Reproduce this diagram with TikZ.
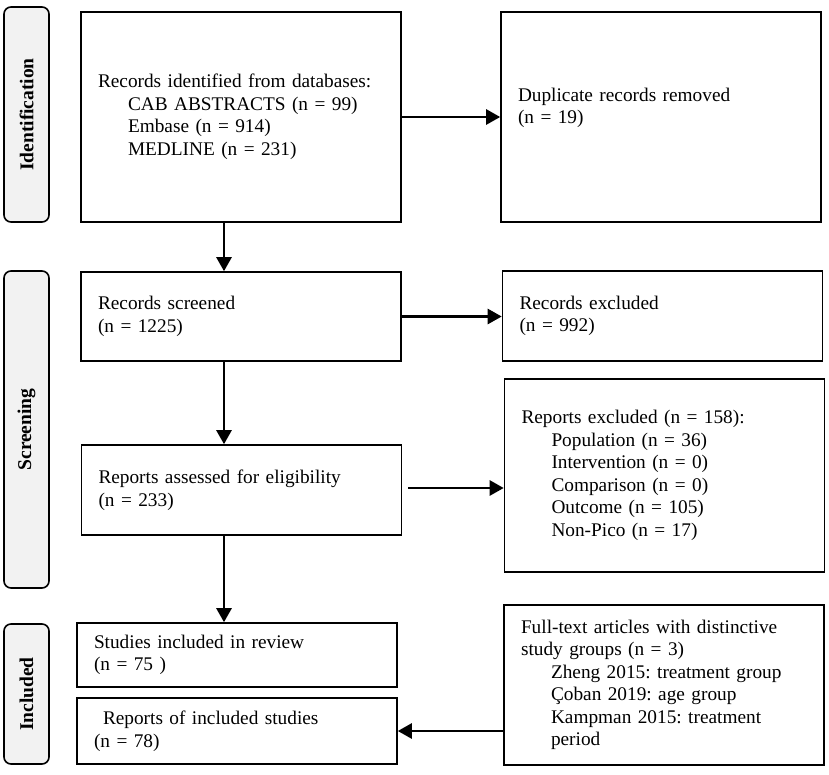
\documentclass[tikz,border=0pt]{standalone}
\usepackage{fontspec}
\setmainfont{Liberation Serif}
\usepackage{xcolor}
\usetikzlibrary{arrows.meta}

\definecolor{sidegray}{HTML}{F2F2F2}

\tikzset{
    box/.style={draw, line width=1.6pt, inner xsep=17pt, inner ysep=0pt,
        minimum width=320pt, text width=286pt, align=left,
        font=\fontsize{19.3}{22.5}\selectfont},
    sidebox/.style={draw, line width=1.6pt, fill=sidegray, rounded corners=7pt,
        rotate=90, minimum height=45pt, inner sep=0pt,
        font=\bfseries\fontsize{19.5}{21}\selectfont},
    arr/.style={line width=2.6pt, -{Triangle[length=14pt,width=15pt]}}
}

\newcommand{\ind}{\hspace*{30pt}}
\frenchspacing

\begin{document}
\begin{tikzpicture}[x=1pt, y=-1pt]
            \fill[white] (0,0) rectangle (829,774);
            \useasboundingbox (0,0) rectangle (829,774);

            % phase labels
            \node[sidebox, minimum width=215pt] (ident) at (26.5,114.5) {Identification};
            \node[sidebox, minimum width=317pt] (scrn) at (26.5,429.5) {Screening};
            \node[sidebox, minimum width=140pt] (incd) at (26.5,694) {Included};

            % Identification
            \node[box, minimum height=210pt] (rid) at (241,117) {Records identified from databases:\\
                \ind CAB ABSTRACTS (n = 99)\\ \ind Embase (n = 914)\\ \ind MEDLINE (n = 231)};
            \node[box, minimum height=210pt] (dup) at (661,117) {Duplicate records removed\\ (n = 19)\\ \mbox{}};

            % Screening
            \node[box, minimum height=89pt] (scr) at (241,316.5) {Records screened\\ (n = 1225)};
            \node[box, minimum height=90pt] (excl) at (662.5,316) {Records excluded\\ (n = 992)};
            \node[box, minimum height=90pt] (rep) at (241.5,490) {Reports assessed for eligibility\\ (n = 233)};
            \node[box, minimum height=193pt] (rexc) at (664.5,475.5) {Reports excluded (n = 158):\\
                \ind Population (n = 36)\\ \ind Intervention (n = 0)\\ \ind Comparison (n = 0)\\
                \ind Outcome (n = 105)\\ \ind Non-Pico (n = 17)};

            % Included
            \node[box, minimum height=64pt] (stud) at (237,655) {Studies included in review\\ (n = 75 )};
            \node[box, minimum height=66pt] (incl) at (237,731) {\hspace*{9pt}Reports of included studies\\ (n = 78)};
            \node[box, minimum height=160pt] (full) at (664,685) {Full-text articles with distinctive\\
                study groups (n = 3)\\ \ind Zheng 2015: treatment group\\ \ind Çoban 2019: age group\\
                \ind Kampman 2015: treatment\\ \ind period};

            % arrows
            \coordinate (spine) at (224,0);
            \draw[arr] (rid.east) -- (dup.west);
            \draw[arr] (rid.south -| spine) -- (scr.north -| spine);
            \draw[arr] (scr.east) -- (scr.east -| excl.west);
            \draw[arr] (scr.south -| spine) -- (rep.north -| spine);
            \draw[arr, shorten <=6pt] ([yshift=2pt]rep.east) -- ([yshift=2pt]rep.east -| rexc.west);
            \draw[arr] (rep.south -| spine) -- (stud.north -| spine);
            \draw[arr] (incl.east -| full.west) -- (incl.east);
        \end{tikzpicture}
\end{document}
